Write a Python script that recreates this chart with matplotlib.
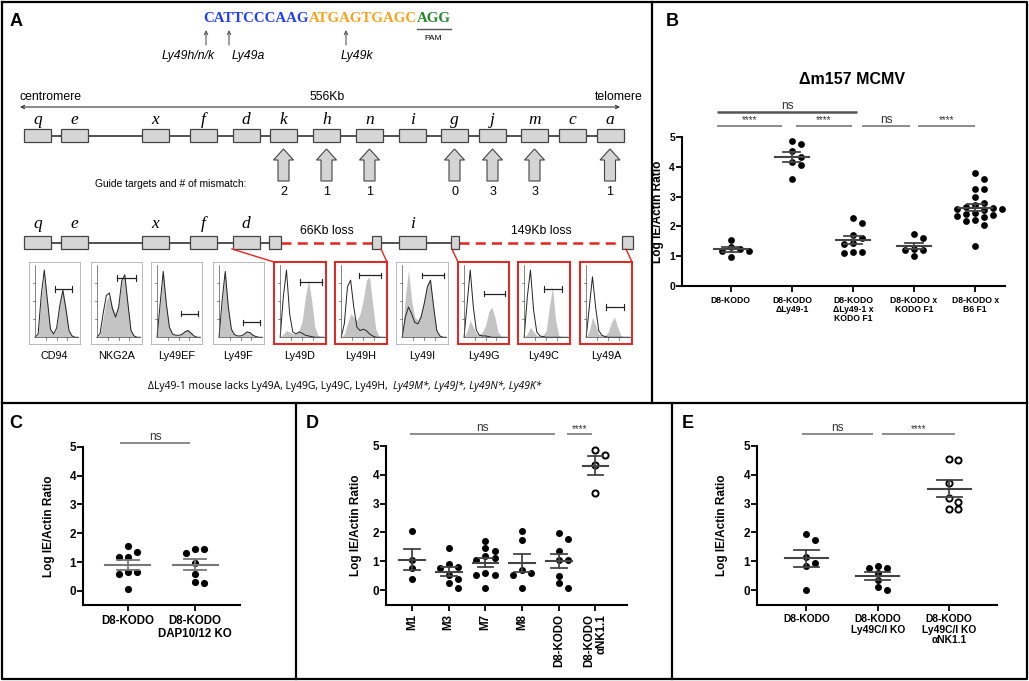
import numpy as np
import matplotlib
matplotlib.use("Agg")
import matplotlib.pyplot as plt
from matplotlib.patches import Rectangle, Polygon

plt.rcParams['font.family'] = ['Liberation Sans', 'DejaVu Sans']

# ------------------------------------------------------------------ data
seq_parts = ["CATTCCCAAG", "ATGAGTGAGC", "AGG"]
seq_site_labels = ["Ly49h/n/k", "Ly49a", "Ly49k"]

genes = ["q", "e", "x", "f", "d", "k", "h", "n", "i", "g", "j", "m", "c", "a"]
mismatch_genes = ["k", "h", "n", "g", "j", "m", "a"]
mismatch_counts = [2, 1, 1, 0, 3, 3, 1]
kept_genes_row2 = ["q", "e", "x", "f", "d", "i"]
loss_labels = ["66Kb loss", "149Kb loss"]

hist_labels = ["CD94", "NKG2A", "Ly49EF", "Ly49F", "Ly49D",
               "Ly49H", "Ly49I", "Ly49G", "Ly49C", "Ly49A"]
hist_lost = [False, False, False, False, True, True, False, True, True, True]
# stained (grey fill) and control (black line) histogram heights, 15 bins each
stain_cd94 = [0, .05, .6, .95, .55, .12, .05, .15, .5, .72, .45, .1, .02, 0, 0]
ctrl_cd94 = [0, .05, .62, 1.0, .55, .12, .05, .14, .47, .7, .42, .1, .02, 0, 0]
stain_nkg2a = [0, .05, .3, .55, .62, .45, .35, .5, .85, .9, .5, .1, .02, 0, 0]
ctrl_nkg2a = [0, .06, .36, .62, .66, .42, .3, .45, .84, .93, .5, .1, .02, 0, 0]
stain_ly49ef = [0, .5, 1.0, .5, .15, .05, .03, .03, .05, .1, .12, .08, .02, 0, 0]
ctrl_ly49ef = [0, .5, .98, .5, .15, .05, .03, .03, .04, .08, .1, .06, .02, 0, 0]
stain_ly49f = [0, .55, 1.0, .45, .12, .04, .02, .02, .05, .09, .08, .03, .01, 0, 0]
ctrl_ly49f = [0, .55, .98, .45, .12, .04, .02, .02, .04, .08, .07, .03, .01, 0, 0]
stain_ly49d = [0, .05, .1, .08, .05, .05, .1, .25, .6, .85, .55, .15, .03, 0, 0]
ctrl_ly49d = [0, .6, 1.0, .35, .08, .05, .08, .06, .03, .02, .01, 0, 0, 0, 0]
stain_ly49h = [0, .05, .2, .35, .3, .25, .35, .55, .85, .9, .5, .12, .02, 0, 0]
ctrl_ly49h = [0, .2, .75, .85, .45, .15, .1, .12, .1, .05, .02, 0, 0, 0, 0]
stain_ly49i = [0, .6, 1.0, .55, .3, .25, .35, .55, .8, .85, .45, .1, .02, 0, 0]
ctrl_ly49i = [0, .3, .45, .35, .22, .2, .3, .5, .75, .85, .45, .1, .02, 0, 0]
stain_ly49g = [0, .1, .25, .15, .05, .05, .08, .18, .38, .45, .3, .08, .02, 0, 0]
ctrl_ly49g = [0, .5, 1.0, .45, .1, .03, .02, .02, .01, 0, 0, 0, 0, 0, 0]
stain_ly49c = [0, .05, .15, .08, .03, .02, .03, .1, .45, .75, .25, .03, 0, 0, 0]
ctrl_ly49c = [0, .6, 1.0, .4, .08, .02, .01, 0, 0, 0, 0, 0, 0, 0, 0]
stain_ly49a = [0, .1, .3, .18, .05, .03, .03, .08, .22, .3, .15, .03, 0, 0, 0]
ctrl_ly49a = [0, .45, .9, .45, .1, .03, .01, 0, 0, 0, 0, 0, 0, 0, 0]
hist_stain = [stain_cd94, stain_nkg2a, stain_ly49ef, stain_ly49f, stain_ly49d,
              stain_ly49h, stain_ly49i, stain_ly49g, stain_ly49c, stain_ly49a]
hist_ctrl = [ctrl_cd94, ctrl_nkg2a, ctrl_ly49ef, ctrl_ly49f, ctrl_ly49d,
             ctrl_ly49h, ctrl_ly49i, ctrl_ly49g, ctrl_ly49c, ctrl_ly49a]
gate_level = [.72, .88, .35, .22, .82, .92, .92, .65, .72, .45]
gate_start = [.45, .45, .55, .55, .45, .4, .45, .45, .45, .45]
gate_end = [.85, .9, .95, .95, .95, .9, .95, .95, .85, .85]

sentence_regular = "\u0394Ly49-1 mouse lacks Ly49A, Ly49G, Ly49C, Ly49H, "
sentence_italic = "Ly49M*, Ly49J*, Ly49N*, Ly49K*"

# Panel B
b_title = "\u0394m157 MCMV"
b_categories = ["D8-KODO", "D8-KODO\n\u0394Ly49-1", "D8-KODO\n\u0394Ly49-1 x\nKODO F1",
                "D8-KODO x\nKODO F1", "D8-KODO x\nB6 F1"]
b_kodo = [1.17, 1.54, 0.96, 1.17, 1.32, 1.23]
b_dly49 = [4.85, 4.78, 4.53, 4.17, 4.06, 4.33, 3.58]
b_dly49_x_kodo = [2.28, 2.10, 1.72, 1.62, 1.45, 1.42, 1.15, 1.10, 1.14]
b_kodo_x_kodo = [1.74, 1.60, 1.22, 1.02, 1.20, 1.25]
b_kodo_x_b6 = [3.80, 3.60, 3.27, 3.27, 3.00, 2.80, 2.72, 2.65, 2.60, 2.60, 2.55,
               2.45, 2.40, 2.38, 2.35, 2.32, 2.20, 2.18, 2.05, 2.62, 1.33]
b_sig_labels = ["ns", "****", "****", "ns", "****"]

# Panel C
c_categories = ["D8-KODO", "D8-KODO\nDAP10/12 KO"]
c_kodo = [1.56, 1.34, 1.19, 1.17, 0.67, 0.59, 0.67, 0.06]
c_dap = [1.44, 1.44, 1.33, 0.98, 0.59, 0.27, 0.30]

# Panel D
d_categories = ["M1", "M3", "M7", "M8", "D8-KODO", "D8-KODO\n\u03b1NK1.1"]
d_m1 = [2.04, 1.04, 0.75, 0.39]
d_m3 = [1.47, 0.80, 0.75, 0.90, 0.37, 0.52, 0.24, 0.07]
d_m7 = [1.72, 1.46, 1.36, 1.17, 1.12, 1.05, 0.52, 0.52, 0.58, 0.07]
d_m8 = [2.04, 1.75, 0.60, 0.52, 0.68, 0.07]
d_kodo = [1.98, 1.76, 1.36, 1.04, 1.06, 0.50, 0.23, 0.08]
d_nk = [4.85, 4.70, 4.35, 3.37]

# Panel E
e_categories = ["D8-KODO", "D8-KODO\nLy49C/I KO", "D8-KODO\nLy49C/I KO\n\u03b1NK1.1"]
e_kodo = [1.73, 1.93, 1.15, 0.95, 0.84, 0.0]
e_ly49ci = [0.84, 0.76, 0.76, 0.60, 0.35, 0.09, 0.0]
e_ly49ci_nk = [4.54, 4.50, 3.73, 3.18, 3.06, 2.81, 2.83]

ylabel = "Log IE/Actin Ratio"

# ------------------------------------------------------------------ figure
W, H = 1029, 681
fig = plt.figure(figsize=(W / 100, H / 100), dpi=100)
ov = fig.add_axes([0, 0, 1, 1])
ov.set_xlim(0, W)
ov.set_ylim(H, 0)
ov.axis('off')
renderer = fig.canvas.get_renderer()


def fr(l, t, r, b):
    return [l / W, 1 - b / H, (r - l) / W, (b - t) / H]


# panel borders
bk = dict(color='black', lw=1.6, solid_capstyle='projecting', clip_on=False)
ov.plot([2, 1027, 1027, 2, 2], [2, 2, 679, 679, 2], **bk)
ov.plot([2, 1027], [403, 403], **bk)
ov.plot([652, 652], [2, 403], **bk)
ov.plot([296, 296], [403, 679], **bk)
ov.plot([672, 672], [403, 679], **bk)

for lab, (x, y) in zip("ABCDE", [(10, 22), (666, 22), (9, 423), (306, 423), (682, 423)]):
    ov.text(x, y, lab, fontsize=13, fontweight='bold', va='center', ha='left')

# ---------------- Panel A
seq_colors = ['#1f3cff', '#f5a21e', '#23862a']
x = 203
for s, c in zip(seq_parts, seq_colors):
    t = ov.text(x, 18, s, color=c, fontsize=10.7, fontweight='bold',
                family='Liberation Serif', va='center', ha='left')
    x += t.get_window_extent(renderer).width
pam_end = x
pam_start = x - t.get_window_extent(renderer).width
ov.plot([pam_start, pam_end], [29, 29], color='#555555', lw=1.0)
ov.text((pam_start + pam_end) / 2, 38, "PAM", fontsize=6, ha='center', va='center')

for ax_, lx, lab in zip([206, 229, 346], [188, 248, 357], seq_site_labels):
    ov.annotate('', xy=(ax_, 30), xytext=(ax_, 45),
                arrowprops=dict(arrowstyle='->', color='#555555', lw=0.8,
                                shrinkA=0, shrinkB=0, mutation_scale=6))
    ov.text(lx, 56, lab, fontsize=8.8, style='italic', ha='center', va='center')

ov.text(20, 97, "centromere", fontsize=8.8, ha='left', va='center')
ov.text(327, 97, "556Kb", fontsize=8.8, ha='center', va='center')
ov.text(643, 97, "telomere", fontsize=8.8, ha='right', va='center')
ov.annotate('', xy=(20, 107), xytext=(620, 107),
            arrowprops=dict(arrowstyle='<->', color='#333333', lw=0.8,
                            shrinkA=0, shrinkB=0, mutation_scale=6))

gene_cx = [37.5, 74.5, 155.5, 203, 246, 283.5, 326.5, 369.5, 412.5, 454.5,
           492.5, 534.5, 572.5, 610]
gx = dict(zip(genes, gene_cx))
bw, by0, by1 = 27, 129, 142
ov.plot([gene_cx[0], gene_cx[-1]], [135.5, 135.5], color='#333333', lw=1.2, zorder=1)
for g, cx in zip(genes, gene_cx):
    ov.add_patch(Rectangle((cx - bw / 2, by0), bw, by1 - by0, facecolor='#d6d6d6',
                           edgecolor='#444444', lw=0.9, zorder=2))
    ov.text(cx, 120, g, fontsize=12.5, style='italic', family='Liberation Serif',
            ha='center', va='center')

for g, n in zip(mismatch_genes, mismatch_counts):
    cx = gx[g]
    poly = [(cx, 149), (cx + 10, 160), (cx + 5.5, 160), (cx + 5.5, 181),
            (cx - 5.5, 181), (cx - 5.5, 160), (cx - 10, 160)]
    ov.add_patch(Polygon(poly, closed=True, facecolor='#d4d4d4', edgecolor='#444444', lw=0.8))
    ov.text(cx, 192, str(n), fontsize=9, ha='center', va='center')
ov.text(171, 184, "Guide targets and # of mismatch:", fontsize=7.4, ha='center', va='center')

# row 2 (deletion)
r2y0, r2y1 = 236, 249
r2c = (r2y0 + r2y1) / 2
ov.plot([gx['q'], 270], [r2c, r2c], color='#333333', lw=1.2, zorder=1)
ov.plot([381, 452], [r2c, r2c], color='#333333', lw=1.2, zorder=1)
ov.plot([281, 372], [r2c, r2c], color='#e8231e', lw=1.8, ls=(0, (4, 2.5)), zorder=1)
ov.plot([459, 622], [r2c, r2c], color='#e8231e', lw=1.8, ls=(0, (4, 2.5)), zorder=1)
for g in kept_genes_row2:
    cx = gx[g]
    ov.add_patch(Rectangle((cx - bw / 2, r2y0), bw, r2y1 - r2y0, facecolor='#d6d6d6',
                           edgecolor='#444444', lw=0.9, zorder=2))
    ov.text(cx, 224, g, fontsize=12.5, style='italic', family='Liberation Serif',
            ha='center', va='center')
for (l, r) in [(269, 281), (372, 381), (451, 459), (622, 633)]:
    ov.add_patch(Rectangle((l, r2y0), r - l, r2y1 - r2y0, facecolor='#d6d6d6',
                           edgecolor='#444444', lw=0.9, zorder=2))
ov.text(327, 231, loss_labels[0], fontsize=8.8, ha='center', va='center')
ov.text(541, 231, loss_labels[1], fontsize=8.8, ha='center', va='center')

for (x0, y0, x1, y1) in [(232, 249, 274, 262), (381, 249, 387, 262),
                         (452, 249, 458, 262), (626, 249, 632, 262)]:
    ov.plot([x0, x1], [y0, y1], color='#e8231e', lw=1.0)

# flow histograms
hist_box = [(29, 80), (91, 142), (151, 202), (213, 264), (274, 326),
            (335, 387), (396, 448), (458, 509), (518, 570), (580, 632)]
hx = np.linspace(0, 1, 15)
for i, lab in enumerate(hist_labels):
    l, r = hist_box[i]
    ha_ = fig.add_axes(fr(l, 262, r, 344))
    ha_.set_xlim(-0.14, 1.04)
    ha_.set_ylim(-0.1, 1.12)
    ha_.set_xticks([])
    ha_.set_yticks([])
    ha_.set_facecolor('white')
    ha_.fill_between(hx, 0, hist_stain[i], color='#c4c4c4', lw=0)
    ha_.plot(hx, hist_ctrl[i], color='#222222', lw=0.7)
    ha_.plot([0, 0], [0, 1.08], color='#555555', lw=0.5)
    ha_.plot([0, 1], [0, 0], color='#555555', lw=0.5)
    for tv in [0.27, 0.54, 0.81]:
        ha_.plot([-0.04, 0], [tv, tv], color='#555555', lw=0.5)
    for tv in [0.25, 0.5, 0.75]:
        ha_.plot([tv, tv], [-0.04, 0], color='#555555', lw=0.5)
    gy, g0, g1 = gate_level[i], gate_start[i], gate_end[i]
    ha_.plot([g0, g1], [gy, gy], color='#222222', lw=0.9)
    ha_.plot([g0, g0], [gy - .04, gy + .04], color='#222222', lw=0.8)
    ha_.plot([g1, g1], [gy - .04, gy + .04], color='#222222', lw=0.8)
    for sp in ha_.spines.values():
        if hist_lost[i]:
            sp.set_color('#e8231e')
            sp.set_linewidth(1.4)
        else:
            sp.set_color('#b0b0b0')
            sp.set_linewidth(0.6)
    ov.text((l + r) / 2, 356, lab, fontsize=7.8, ha='center', va='center')

t1 = ov.text(0, 386, sentence_regular, fontsize=7.5, family='Open Sans',
             ha='left', va='center')
t2 = ov.text(0, 386, sentence_italic, fontsize=7.5, family='Open Sans', style='italic',
             ha='left', va='center')
w1 = t1.get_window_extent(renderer).width
w2 = t2.get_window_extent(renderer).width
start = 345 - (w1 + w2 + 3) / 2
t1.set_x(start)
t2.set_x(start + w1 + 3)


# ------------------------------------------------------------------ scatter panels
def style_axis(ax, cats, ylow, xfs, yfs, rot=0):
    ax.set_facecolor('none')
    ax.set_ylim(ylow, 5)
    for s in ['top', 'right']:
        ax.spines[s].set_visible(False)
    for s in ['left', 'bottom']:
        ax.spines[s].set_linewidth(1.5)
    ax.set_yticks([0, 1, 2, 3, 4, 5])
    ax.set_yticklabels([str(v) for v in range(6)], fontweight='bold', fontsize=yfs)
    ax.tick_params(axis='y', length=4, width=1.3, pad=1)
    ax.tick_params(axis='x', length=4, width=1.3, pad=3)
    ax.set_xticks(range(len(cats)))
    if rot:
        ax.set_xticklabels(cats, fontweight='bold', fontsize=xfs, rotation=90,
                           ha='center', va='top', multialignment='right', linespacing=1.0)
    else:
        ax.set_xticklabels(cats, fontweight='bold', fontsize=xfs, linespacing=1.05)


def swarm(ax, x0, vals, d_px):
    """Column-scatter layout: points closer than one diameter vertically are
    spread sideways so they do not overlap."""
    tr = ax.transData
    ppx = tr.transform((1, 0))[0] - tr.transform((0, 0))[0]
    ppy = tr.transform((0, 1))[1] - tr.transform((0, 0))[1]
    v = np.asarray(vals, float)
    ys = v * ppy
    order = np.argsort(-v, kind='stable')
    cands = [0]
    for k in range(1, 30):
        cands += [k, -k]
    placed = []
    xs = np.zeros(len(v))
    sepx = d_px * 1.3
    sepy = d_px * 0.95
    for i in order:
        for c in cands:
            xo = c * sepx * 0.5
            if all(abs(xo - px) >= sepx or abs(ys[i] - py) >= sepy for px, py in placed):
                break
        placed.append((xo, ys[i]))
        xs[i] = x0 + xo / ppx
    return xs


def group(ax, xpos, vals, d_px, wm, wc, mcol, open_=False):
    xs = swarm(ax, xpos, vals, d_px)
    ms = d_px * 0.72
    if open_:
        ax.scatter(xs, vals, s=(ms * 0.88) ** 2, facecolors='white', edgecolors='black',
                   linewidths=1.4, zorder=2, clip_on=False)
    else:
        ax.scatter(xs, vals, s=ms ** 2, color='black', linewidths=0, zorder=2, clip_on=False)
    v = np.asarray(vals, float)
    m = v.mean()
    se = v.std(ddof=1) / np.sqrt(len(v))
    ax.plot([xpos - wm / 2, xpos + wm / 2], [m, m], color=mcol, lw=1.5, zorder=3)
    ax.plot([xpos, xpos], [m - se, m + se], color=mcol, lw=1.3, zorder=3)
    for yy in (m - se, m + se):
        ax.plot([xpos - wc / 2, xpos + wc / 2], [yy, yy], color=mcol, lw=1.3, zorder=3)


def sig(ax, x0, x1, y, label, color='#8a8a8a', lw=1.4, fs=8.5):
    ax.plot([x0, x1], [y, y], color=color, lw=lw, clip_on=False, solid_capstyle='butt')
    star = label.startswith('*')
    ax.annotate(label, xy=((x0 + x1) / 2, y), xytext=(0, 0.4 if star else 0.2),
                textcoords='offset points', ha='center', va='bottom',
                fontsize=7 if star else fs, color='#333333', annotation_clip=False)


# Panel B
axB = fig.add_axes(fr(682, 137, 1005, 286))
axB.set_xlim(-0.8, 4.49)
style_axis(axB, b_categories, 0, 6.2, 7.5)
axB.set_ylabel(ylabel, fontweight='bold', fontsize=8.6)
axB.yaxis.set_label_coords(-0.055, 0.5)
for i, vals in enumerate([b_kodo, b_dly49, b_dly49_x_kodo, b_kodo_x_kodo, b_kodo_x_b6]):
    group(axB, i, vals, 6.8, 0.55, 0.28, '#444444')
ov.text(852, 80, b_title, fontsize=11.5, fontweight='bold', ha='center', va='center')
sig(axB, -0.23, 2.07, 5.84, b_sig_labels[0], color='#555555', lw=1.8)
sig(axB, -0.23, 0.84, 5.37, b_sig_labels[1])
sig(axB, 1.07, 1.98, 5.37, b_sig_labels[2])
sig(axB, 2.15, 2.93, 5.37, b_sig_labels[3])
sig(axB, 3.07, 4.0, 5.37, b_sig_labels[4])

# Panel C
axC = fig.add_axes(fr(83, 446.7, 240, 605.4))
axC.set_xlim(-0.67, 1.67)
style_axis(axC, c_categories, -0.5, 8.3, 8.5)
axC.set_ylabel(ylabel, fontweight='bold', fontsize=8.5)
axC.yaxis.set_label_coords(-0.18, 0.5)
group(axC, 0, c_kodo, 7.2, 0.67, 0.33, '#777777')
group(axC, 1, c_dap, 7.2, 0.67, 0.33, '#777777')
sig(axC, -0.12, 0.93, 5.12, "ns")

# Panel D
axD = fig.add_axes(fr(386, 446, 627, 604.5))
axD.set_xlim(-0.71, 5.86)
style_axis(axD, d_categories, -0.5, 8.3, 8.5, rot=90)
axD.set_ylabel(ylabel, fontweight='bold', fontsize=8.5)
axD.yaxis.set_label_coords(-0.1, 0.5)
for i, vals in enumerate([d_m1, d_m3, d_m7, d_m8, d_kodo]):
    group(axD, i, vals, 7.0, 0.7, 0.43, '#444444')
group(axD, 5, d_nk, 7.0, 0.7, 0.43, '#444444', open_=True)
sig(axD, -0.05, 3.9, 5.4, "ns")
sig(axD, 4.22, 4.9, 5.4, "****")

# Panel E
axE = fig.add_axes(fr(757, 446, 997, 604.5))
axE.set_xlim(-0.69, 2.67)
style_axis(axE, e_categories, -0.5, 7.4, 8.5)
axE.set_ylabel(ylabel, fontweight='bold', fontsize=8.5)
axE.yaxis.set_label_coords(-0.12, 0.5)
group(axE, 0, e_kodo, 7.0, 0.6, 0.35, '#444444')
group(axE, 1, e_ly49ci, 7.0, 0.6, 0.35, '#444444')
group(axE, 2, e_ly49ci_nk, 7.0, 0.6, 0.35, '#444444', open_=True)
sig(axE, -0.06, 0.94, 5.4, "ns")
sig(axE, 1.06, 2.08, 5.4, "****")

fig.savefig("out.png", dpi=100)
